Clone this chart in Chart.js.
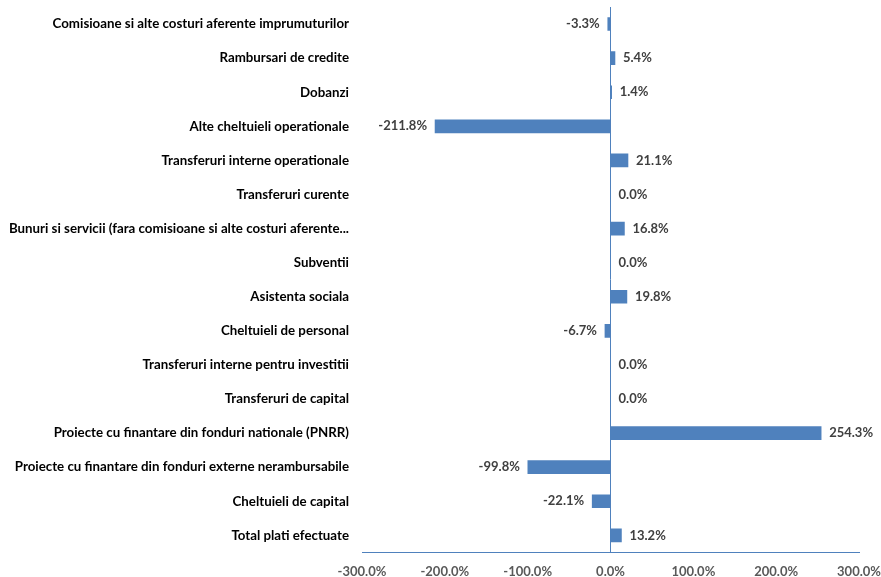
<!DOCTYPE html>
<html>
<head>
<meta charset="utf-8">
<script src="https://cdn.jsdelivr.net/npm/chart.js@4"></script>
<style>
  body { margin: 0; background: #fff; }
  canvas { display: block; }
</style>
</head>
<body>
<canvas id="chart" width="881" height="577"></canvas>
<script>
// categories, top to bottom as in the picture
const categories = [
    "Comisioane si alte costuri aferente imprumuturilor",
    "Rambursari de credite",
    "Dobanzi",
    "Alte cheltuieli operationale",
    "Transferuri interne operationale",
    "Transferuri curente",
    "Bunuri si servicii (fara comisioane si alte costuri aferente...",
    "Subventii",
    "Asistenta sociala",
    "Cheltuieli de personal",
    "Transferuri interne pentru investitii",
    "Transferuri de capital",
    "Proiecte cu finantare din fonduri nationale (PNRR)",
    "Proiecte cu finantare din fonduri externe nerambursabile",
    "Cheltuieli de capital",
    "Total plati efectuate"
];

// percent change
const values = [-3.3, 5.4, 1.4, -211.8, 21.1, 0.0, 16.8, 0.0, 19.8, -6.7, 0.0, 0.0, 254.3, -99.8, -22.1, 13.2];

const xMin = -300;
const xMax = 300;
const xStep = 100;

const blue = '#4F81BD';
const fontFamily = 'Lato, "Noto Sans", sans-serif';

// value labels next to the bar ends
const valueLabels = {
    id: 'valueLabels',
    afterDatasetsDraw(chart) {
        const ctx = chart.ctx;
        const meta = chart.getDatasetMeta(0);
        ctx.save();
        ctx.font = 'bold 13px ' + fontFamily;
        ctx.fillStyle = '#404040';
        ctx.textBaseline = 'middle';
        meta.data.forEach((bar, i) => {
            const v = values[i];
            const txt = v.toFixed(1) + '%';
            if (v < 0) {
                ctx.textAlign = 'right';
                ctx.fillText(txt, bar.x - 8, bar.y);
            } else {
                ctx.textAlign = 'left';
                ctx.fillText(txt, bar.x + 8, bar.y);
            }
        });
        ctx.restore();
    }
};

new Chart(document.getElementById('chart'), {
    type: 'bar',
    data: {
        labels: categories,
        datasets: [{
            data: values,
            backgroundColor: blue,
            borderWidth: 0,
            barThickness: 13
        }]
    },
    options: {
        indexAxis: 'y',
        responsive: false,
        animation: false,
        layout: { padding: { top: 7, right: 0, bottom: -15, left: 0 } },
        plugins: {
            legend: { display: false },
            tooltip: { enabled: false }
        },
        scales: {
            x: {
                min: xMin,
                max: xMax,
                ticks: {
                    stepSize: xStep,
                    color: '#595959',
                    font: { family: fontFamily, size: 13, weight: 'bold' },
                    padding: 12,
                    maxRotation: 0,
                    callback: v => v.toFixed(1) + '%'
                },
                grid: {
                    drawTicks: false,
                    color: c => c.tick && c.tick.value === 0 ? blue : 'rgba(0,0,0,0)',
                    lineWidth: 1
                },
                border: { display: true, color: blue, width: 1 },
                afterFit: scale => { scale.paddingLeft = 0; scale.paddingRight = 22; }
            },
            y: {
                ticks: {
                    color: '#000',
                    font: { family: fontFamily, size: 13.3, weight: 'bold' },
                    padding: 13
                },
                grid: { display: false, drawTicks: false },
                border: { display: false },
                afterFit: scale => {
                    scale.width = 362;
                    scale.paddingTop = 0;
                    scale.paddingBottom = 0;
                }
            }
        }
    },
    plugins: [valueLabels]
});
</script>
</body>
</html>
